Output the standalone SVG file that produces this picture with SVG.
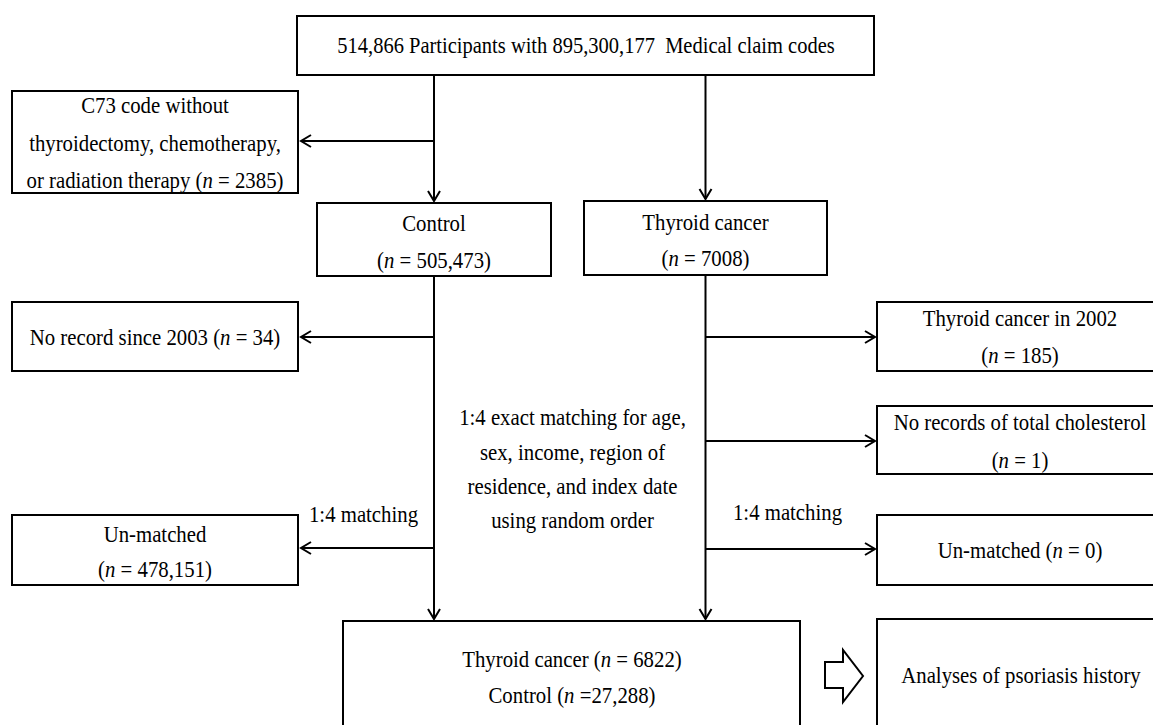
<svg xmlns="http://www.w3.org/2000/svg" width="1153" height="725" viewBox="0 0 1153 725">
<style>
.box{fill:#fff;stroke:#000;stroke-width:2}
.t{font-family:"Liberation Serif","Times New Roman",serif;font-size:20.8px;fill:#000;text-anchor:middle}
.top{font-size:20.5px}
.i{font-style:italic}
.c{fill:none;stroke:#000;stroke-width:2}
</style>
<defs>
<marker id="arr" markerUnits="userSpaceOnUse" markerWidth="24" markerHeight="24" viewBox="-12 -12 24 24" refX="0" refY="0" orient="auto" overflow="visible">
<path d="M-10,-6 L0,0 L-10,6" fill="none" stroke="#000" stroke-width="2"/>
</marker>
</defs>
<rect width="1153" height="725" fill="#fff"/>

<g id="connectors">
<path class="c" d="M434,76 V201" marker-end="url(#arr)"/>
<path class="c" d="M434,141 H301" marker-end="url(#arr)"/>
<path class="c" d="M705.5,76 V199" marker-end="url(#arr)"/>
<path class="c" d="M434,276 V619" marker-end="url(#arr)"/>
<path class="c" d="M434,337 H301" marker-end="url(#arr)"/>
<path class="c" d="M434,548 H301" marker-end="url(#arr)"/>
<path class="c" d="M705.5,275 V619" marker-end="url(#arr)"/>
<path class="c" d="M705.5,337 H875" marker-end="url(#arr)"/>
<path class="c" d="M705.5,441 H875" marker-end="url(#arr)"/>
<path class="c" d="M705.5,549 H875" marker-end="url(#arr)"/>
<text class="t" transform="translate(363.5 522) scale(1 1.08)">1:4 matching</text>
<text class="t" transform="translate(787.5 520) scale(1 1.08)">1:4 matching</text>
<polygon class="box" points="825,662 843,662 843,650 863,676 843,702 843,688 825,688"/>
</g>

<g id="n-top">
<rect class="box" x="297" y="16" width="577" height="59"/>
<text class="t top" transform="translate(586 53) scale(1 1.08)" xml:space="preserve">514,866 Participants with 895,300,177  Medical claim codes</text>
</g>

<g id="n-c73">
<rect class="box" x="12" y="91" width="286" height="102"/>
<text class="t" transform="translate(155 113) scale(1 1.08)">C73 code without</text>
<text class="t" transform="translate(155 151) scale(1 1.08)">thyroidectomy, chemotherapy,</text>
<text class="t" transform="translate(155 188) scale(1 1.08)">or radiation therapy (<tspan class="i">n</tspan> = 2385)</text>
</g>

<g id="n-control">
<rect class="box" x="317" y="203" width="234" height="73"/>
<text class="t" transform="translate(434 231) scale(1 1.08)">Control</text>
<text class="t" transform="translate(434 268) scale(1 1.08)">(<tspan class="i">n</tspan> = 505,473)</text>
</g>

<g id="n-thyroid">
<rect class="box" x="584" y="201" width="243" height="74"/>
<text class="t" transform="translate(705.5 230) scale(1 1.08)">Thyroid cancer</text>
<text class="t" transform="translate(705.5 266) scale(1 1.08)">(<tspan class="i">n</tspan> = 7008)</text>
</g>

<g id="n-norecord">
<rect class="box" x="12" y="302" width="286" height="69"/>
<text class="t" transform="translate(155 345) scale(1 1.08)">No record since 2003 (<tspan class="i">n</tspan> = 34)</text>
</g>

<g id="n-unmatched-left">
<rect class="box" x="12" y="515" width="286" height="70"/>
<text class="t" transform="translate(155 542) scale(1 1.08)">Un-matched</text>
<text class="t" transform="translate(155 577) scale(1 1.08)">(<tspan class="i">n</tspan> = 478,151)</text>
</g>

<g id="n-matching-note">
<text class="t" transform="translate(572.5 425) scale(1 1.08)">1:4 exact matching for age,</text>
<text class="t" transform="translate(572.5 460) scale(1 1.08)">sex, income, region of</text>
<text class="t" transform="translate(572.5 494) scale(1 1.08)">residence, and index date</text>
<text class="t" transform="translate(572.5 528) scale(1 1.08)">using random order</text>
</g>

<g id="n-tc2002">
<rect class="box" x="877" y="302" width="290" height="69"/>
<text class="t" transform="translate(1020 326) scale(1 1.08)">Thyroid cancer in 2002</text>
<text class="t" transform="translate(1020 363) scale(1 1.08)">(<tspan class="i">n</tspan> = 185)</text>
</g>

<g id="n-nochol">
<rect class="box" x="877" y="406" width="290" height="68"/>
<text class="t" transform="translate(1020 430) scale(1 1.08)">No records of total cholesterol</text>
<text class="t" transform="translate(1020 468) scale(1 1.08)">(<tspan class="i">n</tspan> = 1)</text>
</g>

<g id="n-unmatched-right">
<rect class="box" x="877" y="515" width="290" height="70"/>
<text class="t" transform="translate(1020 558) scale(1 1.08)">Un-matched (<tspan class="i">n</tspan> = 0)</text>
</g>

<g id="n-final">
<rect class="box" x="343" y="621" width="457" height="120"/>
<text class="t" transform="translate(572 667) scale(1 1.08)">Thyroid cancer (<tspan class="i">n</tspan> = 6822)</text>
<text class="t" transform="translate(572 703) scale(1 1.08)">Control (<tspan class="i">n</tspan> =27,288)</text>
</g>

<g id="n-analyses">
<rect class="box" x="877" y="619" width="290" height="122"/>
<text class="t" transform="translate(1021 683) scale(1 1.08)">Analyses of psoriasis history</text>
</g>
</svg>
